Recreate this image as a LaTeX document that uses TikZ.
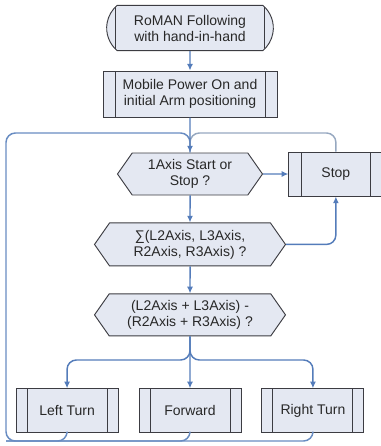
\documentclass[tikz,border=0pt]{standalone}
\usepackage{fontspec}
\setmainfont{Liberation Sans}
\usetikzlibrary{arrows.meta, positioning, calc, shapes.misc, shapes.symbols}
\definecolor{flowblue}{RGB}{84,124,186}
\definecolor{retblue}{RGB}{104,140,194}
\definecolor{stopgray}{RGB}{150,168,192}
\definecolor{boxfill}{RGB}{228,232,242}
\definecolor{boxline}{RGB}{60,60,66}
\definecolor{txt}{RGB}{40,40,40}
\tikzset{
    flowchart/.style={>={Latex[length=5pt,width=4.5pt]}, font=\fontsize{10.5}{12}\selectfont, text=txt, x=0.75pt, y=-0.75pt},
    term/.style={rounded rectangle, rounded rectangle arc length=100, draw=boxline, fill=boxfill, line width=0.7pt,
        align=center, minimum width=129pt, minimum height=34pt, inner sep=2pt,
        path picture={\draw[boxline, line width=0.7pt]
            ([xshift=8pt]path picture bounding box.north west) -- ([xshift=8pt]path picture bounding box.south west)
            ([xshift=-8pt]path picture bounding box.north east) -- ([xshift=-8pt]path picture bounding box.south east);}},
    procbox/.style={rectangle, draw=boxline, fill=boxfill, line width=0.7pt, align=center,
        minimum width=76.5pt, minimum height=33pt, inner sep=2pt,
        path picture={\draw[boxline, line width=0.7pt]
            ([xshift=#1]path picture bounding box.north west) -- ([xshift=#1]path picture bounding box.south west)
            ([xshift=-#1]path picture bounding box.north east) -- ([xshift=-#1]path picture bounding box.south east);}},
    procbox/.default=8.25pt,
    decision/.style={signal, signal to=west and east, signal pointer angle=110, draw=boxline, fill=boxfill,
        line width=0.7pt, align=center, inner sep=1pt},
    flow/.style={->, draw=flowblue, line width=1.1pt},
    retline/.style={draw=retblue, line width=1.1pt, rounded corners=7pt},
}
\begin{document}
\begin{tikzpicture}[flowchart]
    \useasboundingbox (0,0) rectangle (380,446);
    \node[term]                         (start) at (190,28) {RoMAN Following\\with hand-in-hand};
    \node[procbox=9pt, minimum width=130.5pt, minimum height=34.5pt, below=14.6pt of start] (power) {Mobile Power On and\\initial Arm positioning};
    \node[decision, minimum width=108.75pt, minimum height=31.5pt, below=26.25pt of power] (q1) {1Axis Start or\\Stop ?};
    \node[procbox=9.5pt, minimum width=70.5pt, right=19pt of q1] (stop) {Stop};
    \node[decision, minimum width=143.25pt, minimum height=32.25pt, below=20.25pt of q1] (q2) {∑(L2Axis, L3Axis,\\R2Axis, R3Axis) ?};
    \node[decision, minimum width=143.25pt, minimum height=31.5pt, below=20.25pt of q2] (q3) {(L2Axis + L3Axis) -\\(R2Axis + R3Axis) ?};
    \node[procbox, below=39pt of q3]    (fwd)   {Forward};
    \node[procbox, left=15pt of fwd]    (lturn) {Left Turn};
    \node[procbox, right=15pt of fwd]   (rturn) {Right Turn};

    \coordinate (looptop) at (6,133);
    \coordinate (loopbot) at (6,441);
    \coordinate (split)   at (190,360);

    % return paths
    \draw[retline] (lturn.south) |- (loopbot) -- (looptop) -| (q1.north);
    \draw[retline] (fwd.south) |- (loopbot);
    \draw[retline] (rturn.south) |- (loopbot);
    \draw[retline, draw=stopgray] (stop.north) -- (stop.north |- looptop) -| (q1.north);

    \draw[flow] (start) -- (power);
    \draw[flow] (power) -- (q1);
    \draw[flow] (q1) -- (stop);
    \draw[flow] (q1) -- (q2);
    \draw[flow] (q2) -- (q3);
    \draw[flow, rounded corners=7pt] (q2.east) -| (stop.south);
    \draw[flow] (q3) -- (fwd);
    \draw[flow, rounded corners=7pt] (q3.south) -- (split) -| (lturn.north);
    \draw[flow, rounded corners=7pt] (q3.south) -- (split) -| (rturn.north);
\end{tikzpicture}
\end{document}
